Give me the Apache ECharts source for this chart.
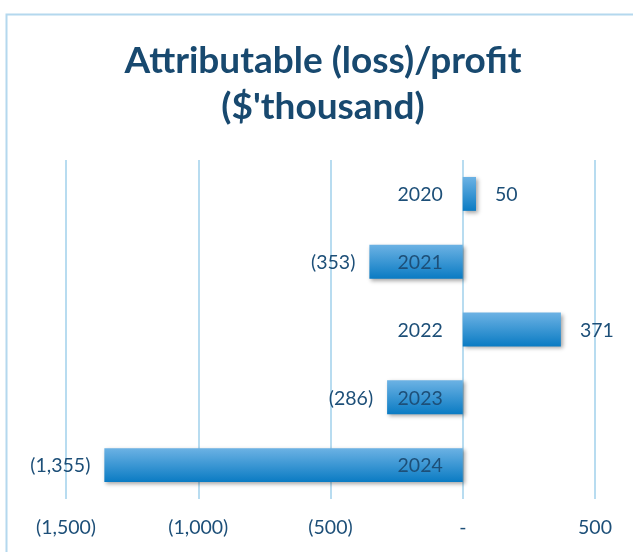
<!DOCTYPE html>
<html><head><meta charset="utf-8">
<script src="https://cdn.jsdelivr.net/npm/echarts@6/dist/echarts.min.js"></script>
<style>html,body{margin:0;padding:0;background:#fff}#c{width:633px;height:552px}</style>
</head><body><div id="c"></div>
<script>
const categories = ['2020', '2021', '2022', '2023', '2024'];
const values = [50, -353, 371, -286, -1355];
const xTicks = [-1500, -1000, -500, 0, 500];

function fmt(v) {
  if (v === 0) return '-';
  const s = Math.abs(v).toLocaleString('en-US');
  return v < 0 ? '(' + s + ')' : s;
}

const textColor = '#1d4f78';
const fs = 19.5;
const chart = echarts.init(document.getElementById('c'));
chart.setOption({
  backgroundColor: '#fff',
  animation: false,
  graphic: [{
    type: 'rect', left: 4, top: 12, z: -1,
    shape: { width: 700, height: 600 },
    style: { fill: 'none', stroke: '#b4d8ee', lineWidth: 2 }
  }],
  title: {
    text: "Attributable (loss)/profit\n($'thousand)",
    left: 318, top: 33, textAlign: 'center',
    textStyle: { fontFamily: 'Lato', fontWeight: 'bold', fontSize: 37, color: '#18496f', lineHeight: 46 }
  },
  grid: { left: 66, right: 38, top: 160, bottom: 53 },
  xAxis: {
    type: 'value', min: xTicks[0], max: xTicks[xTicks.length - 1], interval: 500,
    axisLine: { show: false }, axisTick: { show: false },
    axisLabel: { formatter: fmt, color: textColor, fontSize: fs, fontFamily: 'Lato', margin: 19 },
    splitLine: { show: true, lineStyle: { color: '#b8dcf0', width: 2 } }
  },
  yAxis: {
    type: 'category', data: categories, inverse: true,
    axisLine: { show: false }, axisTick: { show: false },
    axisLabel: { show: false }
  },
  series: [{
    type: 'bar', barWidth: '50%',
    data: values.map(v => ({
      value: v,
      label: { show: true, position: v < 0 ? 'left' : 'right', distance: v < 0 ? 14 : 19 }
    })),
    label: { formatter: p => fmt(p.value), color: textColor, fontSize: fs, fontFamily: 'Lato', offset: [0, 1] },
    itemStyle: {
      color: new echarts.graphic.LinearGradient(0, 0, 0, 1, [
        { offset: 0, color: '#6cb2e4' }, { offset: 1, color: '#0a7bc3' }
      ]),
      shadowColor: 'rgba(0,0,0,0.35)', shadowBlur: 4, shadowOffsetX: 2, shadowOffsetY: 2
    }
  }, {
    type: 'scatter', z: 10, symbolSize: 0, silent: true,
    itemStyle: { opacity: 1 },
    data: categories.map(c => [0, c]),
    label: {
      show: true, position: 'left', distance: 20, opacity: 1, offset: [0, 1],
      formatter: p => p.value[1], color: textColor, fontSize: fs, fontFamily: 'Lato'
    }
  }]
});
</script></body></html>
